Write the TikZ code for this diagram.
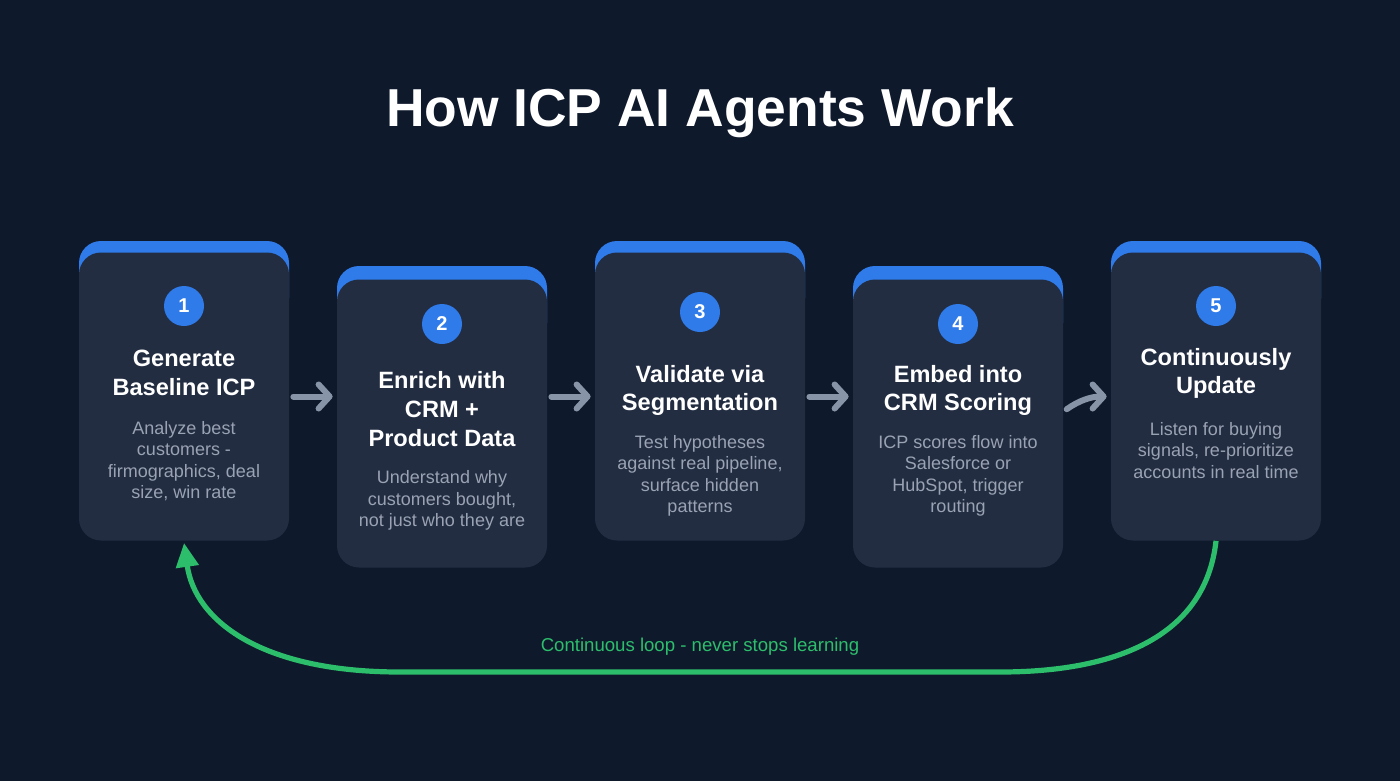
\documentclass[tikz,border=0pt]{standalone}
\usepackage{fontspec}
\setmainfont{Liberation Sans}
\usetikzlibrary{arrows.meta}

\definecolor{bgnavy}{HTML}{0F192C}
\definecolor{cardfill}{HTML}{222D42}
\definecolor{accent}{HTML}{2F7BEA}
\definecolor{desctext}{HTML}{9AA3B3}
\definecolor{flowgray}{HTML}{8793A6}
\definecolor{loopgreen}{HTML}{2DBE6C}

\tikzset{
  card/.style={rectangle, rounded corners=11pt, fill=cardfill,
    minimum width=105pt, minimum height=144pt, inner sep=0pt},
  topbar/.style={fill=accent, rounded corners=11pt},
  stepnum/.style={circle, fill=accent, minimum size=20pt, inner sep=0pt,
    text=white, font=\bfseries\fontsize{10}{12}\selectfont},
  steptitle/.style={text=white, align=center,
    font=\bfseries\fontsize{11.8}{14.3}\selectfont},
  stepdesc/.style={text=desctext, align=center,
    font=\fontsize{9}{10.7}\selectfont},
  flow/.style={draw=flowgray, line width=3pt, line cap=round,
    -{Straight Barb[round, length=5.5pt, width=12pt]}},
  loopback/.style={draw=loopgreen, line width=2.6pt,
    -{Triangle[length=12pt, width=11pt]}}
}

\begin{document}
\begin{tikzpicture}[x=0.5pt, y=-0.5pt]
  % background
  \fill[bgnavy] (0,0) rectangle (1400,781);
  \useasboundingbox (0,0) rectangle (1400,781);
  % title
  \node[text=white, font=\bfseries\fontsize{26.7}{32}\selectfont] (title) at (700,113)
    {How ICP AI Agents Work};
  % blue tops of the cards
  \fill[topbar] (79,241) rectangle (289,320);
  \fill[topbar] (337,266) rectangle (547,345);
  \fill[topbar] (595,241) rectangle (805,320);
  \fill[topbar] (853,266) rectangle (1063,345);
  \fill[topbar] (1111,241) rectangle (1321,320);
  % cards
  \node[card] (c1) at (184,396.5) {};
  \node[card] (c2) at (442,423.5) {};
  \node[card] (c3) at (700,396.5) {};
  \node[card] (c4) at (958,423.5) {};
  \node[card] (c5) at (1216,396.5) {};
  % step 1
  \node[stepnum] (n1) at (184,306) {1};
  \node[steptitle] (t1) at (184,373) {Generate\\Baseline ICP};
  \node[stepdesc] (d1) at (184,461) {Analyze best\\customers -\\firmographics, deal\\size, win rate};
  % step 2
  \node[stepnum] (n2) at (442,324) {2};
  \node[steptitle] (t2) at (442,409) {Enrich with\\CRM +\\Product Data};
  \node[stepdesc] (d2) at (442,500.5) {Understand why\\customers bought,\\not just who they are};
  % step 3
  \node[stepnum] (n3) at (700,312) {3};
  \node[steptitle] (t3) at (700,390.5) {Validate via\\Segmentation};
  \node[stepdesc] (d3) at (700,476) {Test hypotheses\\against real pipeline,\\surface hidden\\patterns};
  % step 4
  \node[stepnum] (n4) at (958,324) {4};
  \node[steptitle] (t4) at (958,390.5) {Embed into\\CRM Scoring};
  \node[stepdesc] (d4) at (958,476) {ICP scores flow into\\Salesforce or\\HubSpot, trigger\\routing};
  % step 5
  \node[stepnum] (n5) at (1216,306) {5};
  \node[steptitle] (t5) at (1216,373.5) {Continuously\\Update};
  \node[stepdesc] (d5) at (1216,450.5) {Listen for buying\\signals, re-prioritize\\accounts in real time};
  % arrows between the cards
  \draw[flow, shorten <=2pt, shorten >=2pt] (c1.east) -- (c2.west |- c1.east);
  \draw[flow, shorten <=2pt, shorten >=2pt] (c2.east |- c3.west) -- (c3.west);
  \draw[flow, shorten <=2pt, shorten >=2pt] (c3.east) -- (c4.west |- c3.east);
  \draw[flow, shorten <=2pt, shorten >=2pt] ([yshift=6pt]c4.east) to[out=35, in=180] (c5.west);
  % feedback loop
  \draw[loopback] (c5.south) .. controls (1205,640) and (1110,672) .. (1000,672)
    -- (400,672) .. controls (260,672) and (195,620) .. ([yshift=-1pt]c1.south);
  \node[text=loopgreen, font=\fontsize{9.3}{11}\selectfont] (lp) at (700,647)
    {Continuous loop - never stops learning};
\end{tikzpicture}
\end{document}
